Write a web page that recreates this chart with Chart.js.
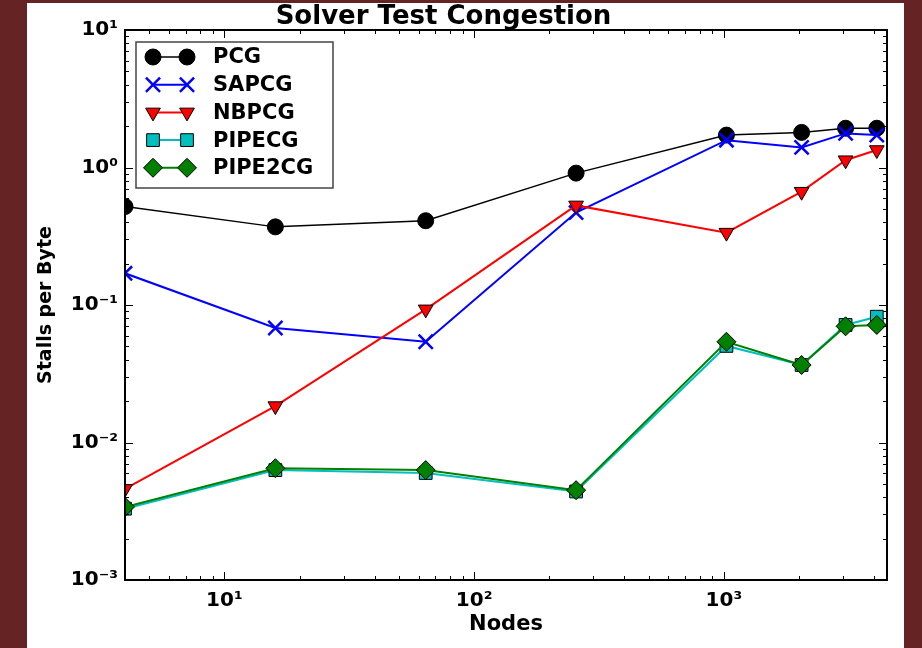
<!DOCTYPE html>
<html><head><meta charset="utf-8">
<script src="https://cdn.jsdelivr.net/npm/chart.js@4.4.1/dist/chart.umd.min.js"></script>
<style>
html,body{margin:0;padding:0;background:#652323;}
#wrap{position:relative;width:922px;height:648px;}
</style></head><body>
<div id="wrap"><canvas id="c" width="922" height="648"></canvas></div>
<script>
// ---- data ----
const nodes   = [4, 16, 64, 256, 1024, 2048, 3072, 4096];
const pcg     = [0.52, 0.37, 0.41, 0.91, 1.72, 1.80, 1.93, 1.93];
const sapcg   = [0.17, 0.068, 0.054, 0.47, 1.58, 1.40, 1.77, 1.72];
const nbpcg   = [0.0046, 0.0184, 0.093, 0.53, 0.336, 0.667, 1.13, 1.34];
const pipecg  = [0.0033, 0.0063, 0.0060, 0.0044, 0.0504, 0.0366, 0.0716, 0.0822];
const pipe2cg = [0.0034, 0.0065, 0.0063, 0.0045, 0.054, 0.0366, 0.0700, 0.0716];
const seriesNames = ['PCG', 'SAPCG', 'NBPCG', 'PIPECG', 'PIPE2CG'];
const xTickValues = [10, 100, 1000];
const xTickLabels = ['10¹', '10²', '10³'];
const yTickValues = [0.001, 0.01, 0.1, 1, 10];
const yTickLabels = ['10⁻³', '10⁻²', '10⁻¹', '10⁰', '10¹'];
const chartTitle = 'Solver Test Congestion';
const xTitle = 'Nodes';
const yTitle = 'Stalls per Byte';

const FONT = "'DejaVu Sans', 'Liberation Sans', sans-serif";
const styles = [
  {color:'#000000', width:1.5, pointStyle:'circle',   radius:8,   bg:'#000000', border:'#000000', bw:1, rot:0},
  {color:'#0000ff', width:2,   pointStyle:'crossRot', radius:10,  bg:'#0000ff', border:'#0000ff', bw:2.5, rot:0},
  {color:'#ff0000', width:2,   pointStyle:'triangle', radius:8.5, bg:'#ff0000', border:'#000000', bw:1, rot:180},
  {color:'#00bfbf', width:2,   pointStyle:'rect',     radius:9,   bg:'#00bfbf', border:'#000000', bw:1, rot:0},
  {color:'#008000', width:2,   pointStyle:'rectRot',  radius:9.5, bg:'#008000', border:'#000000', bw:1, rot:0}
];
const seriesValues = [pcg, sapcg, nbpcg, pipecg, pipe2cg];

function labelFor(value, vals, labels) {
  const lv = Math.log10(value);
  const i = vals.findIndex(v => Math.abs(Math.log10(v) - lv) < 1e-6);
  return i >= 0 ? labels[i] : '';
}

const datasets = seriesNames.map((name, i) => ({
  label: name,
  data: nodes.map((n, j) => ({x: n, y: seriesValues[i][j]})),
  borderColor: styles[i].color,
  backgroundColor: styles[i].bg,
  borderWidth: styles[i].width,
  pointStyle: styles[i].pointStyle,
  pointRadius: styles[i].radius,
  pointHoverRadius: styles[i].radius,
  pointBackgroundColor: styles[i].bg,
  pointBorderColor: styles[i].border,
  pointBorderWidth: styles[i].bw,
  pointRotation: styles[i].rot,
  tension: 0,
  fill: false,
  clip: 0,
  order: seriesNames.length - 1 - i
}));

const bgPlugin = {
  id: 'bg',
  beforeDraw(chart) {
    const ctx = chart.ctx;
    ctx.save();
    ctx.fillStyle = '#ffffff';
    ctx.fillRect(27, 3, 877, 645);
    ctx.restore();
  }
};

const framePlugin = {
  id: 'frame',
  afterDatasetsDraw(chart) {
    const {ctx, chartArea: a, scales: {x, y}} = chart;
    ctx.save();
    ctx.strokeStyle = '#000';
    ctx.lineWidth = 1;
    const drawTicks = (scale, horizontal) => {
      const min = scale.min, max = scale.max;
      const e0 = Math.floor(Math.log10(min)), e1 = Math.ceil(Math.log10(max));
      for (let e = e0; e <= e1; e++) {
        for (let m = 1; m <= 9; m++) {
          const v = m * Math.pow(10, e);
          if (v < min * 0.9999 || v > max * 1.0001) continue;
          const p = Math.round(scale.getPixelForValue(v)) + 0.5;
          const len = m === 1 ? 8 : 4;
          ctx.beginPath();
          if (horizontal) {
            ctx.moveTo(p, a.bottom); ctx.lineTo(p, a.bottom - len);
            ctx.moveTo(p, a.top); ctx.lineTo(p, a.top + len);
          } else {
            ctx.moveTo(a.left, p); ctx.lineTo(a.left + len, p);
            ctx.moveTo(a.right, p); ctx.lineTo(a.right - len, p);
          }
          ctx.stroke();
        }
      }
    };
    drawTicks(x, true);
    drawTicks(y, false);
    ctx.lineWidth = 2;
    ctx.strokeRect(a.left, a.top, a.right - a.left, a.bottom - a.top);
    ctx.restore();
  }
};

const legendPlugin = {
  id: 'customLegend',
  afterDraw(chart) {
    const {ctx, chartArea: a} = chart;
    const bx = a.left + 11, by = a.top + 12, bw = 197, bh = 146;
    ctx.save();
    ctx.fillStyle = '#fff';
    ctx.fillRect(bx, by, bw, bh);
    ctx.strokeStyle = '#444';
    ctx.lineWidth = 1.5;
    ctx.strokeRect(bx, by, bw, bh);
    const rowH = 27.7;
    chart.data.datasets.forEach((ds, i) => {
      const cy = by + 15 + i * rowH;
      const x1 = bx + 17, x2 = bx + 51;
      ctx.strokeStyle = ds.borderColor;
      ctx.lineWidth = ds.borderWidth;
      ctx.beginPath(); ctx.moveTo(x1, cy); ctx.lineTo(x2, cy); ctx.stroke();
      [x1, x2].forEach(px => {
        ctx.fillStyle = ds.pointBackgroundColor;
        ctx.strokeStyle = ds.pointBorderColor;
        ctx.lineWidth = ds.pointBorderWidth;
        Chart.helpers.drawPoint(ctx, {
          pointStyle: ds.pointStyle, rotation: ds.pointRotation,
          radius: ds.pointRadius, borderWidth: ds.pointBorderWidth
        }, px, cy);
      });
      ctx.fillStyle = '#000';
      ctx.font = "bold 21px " + FONT;
      ctx.textBaseline = 'middle';
      ctx.textAlign = 'left';
      ctx.fillText(ds.label, bx + 77, cy + 1);
    });
    ctx.restore();
  }
};

new Chart(document.getElementById('c'), {
  type: 'line',
  data: {datasets},
  plugins: [bgPlugin, framePlugin, legendPlugin],
  options: {
    responsive: false,
    animation: false,
    events: [],
    layout: {padding: {left: 0, right: 35, top: 0, bottom: 0}},
    plugins: {
      legend: {display: false},
      tooltip: {enabled: false},
      title: {
        display: true, text: chartTitle, color: '#000',
        font: {family: FONT, size: 26, weight: 'bold', lineHeight: 1},
        padding: {top: 4, bottom: 0}
      }
    },
    scales: {
      x: {
        type: 'logarithmic', min: 4, max: 4500,
        grid: {display: false, drawTicks: false},
        border: {display: false},
        afterFit(s) { s.height = 68; },
        ticks: {
          autoSkip: false, maxRotation: 0, padding: 9, color: '#000',
          font: {family: FONT, size: 20, weight: 'bold'},
          callback: v => labelFor(v, xTickValues, xTickLabels)
        },
        title: {
          display: true, text: xTitle, color: '#000',
          font: {family: FONT, size: 21, weight: 'bold'},
          padding: {top: 0, bottom: 11}
        }
      },
      y: {
        type: 'logarithmic', min: 0.001, max: 10,
        grid: {display: false, drawTicks: false},
        border: {display: false},
        afterFit(s) { s.width = 125; },
        ticks: {
          autoSkip: false, padding: 7, color: '#000',
          font: {family: FONT, size: 20, weight: 'bold'},
          callback: v => labelFor(v, yTickValues, yTickLabels)
        },
        title: {
          display: true, text: yTitle, color: '#000',
          font: {family: FONT, size: 19, weight: 'bold'},
          padding: {top: 35, bottom: 0}
        }
      }
    }
  }
});
</script>
</body></html>
